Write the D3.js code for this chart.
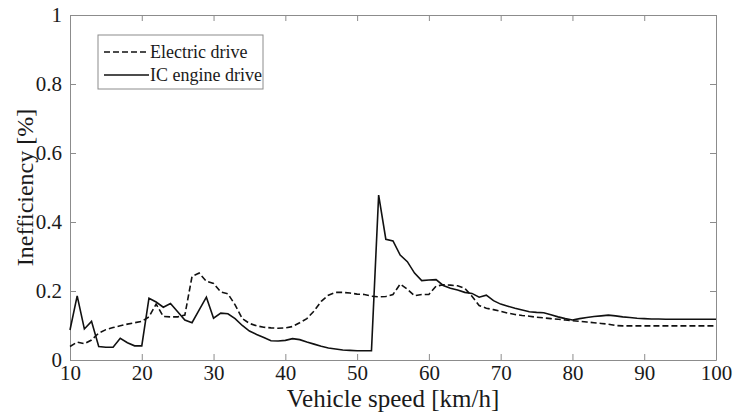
<!DOCTYPE html>
<html>
<head>
<meta charset="utf-8">
<script src="https://cdn.jsdelivr.net/npm/d3@7"></script>
<style>
  body { margin: 0; background: #fff; }
  svg text { font-family: "Liberation Serif", "DejaVu Serif", serif !important; fill: #1a1a1a; }
  .axis path, .axis line { stroke: #8c8c8c; }
  .line { fill: none; stroke: #111; stroke-width: 1.6; }
  .dash { stroke-dasharray: 6,3; }
</style>
</head>
<body>
<div id="chart"></div>
<script>
// values, one per km/h
var speeds = d3.range(10, 101);
var icEngine = [
  0.087, 0.186, 0.090, 0.112, 0.039, 0.037, 0.037, 0.063, 0.050, 0.041,
  0.041, 0.179, 0.168, 0.153, 0.164, 0.140, 0.116, 0.108, 0.145, 0.182,
  0.121, 0.136, 0.134, 0.120, 0.100, 0.084, 0.074, 0.065, 0.056, 0.055,
  0.057, 0.062, 0.059, 0.052, 0.046, 0.040, 0.035, 0.032, 0.029, 0.028,
  0.027, 0.027, 0.027, 0.478, 0.350, 0.345, 0.304, 0.285, 0.252, 0.230,
  0.232, 0.233, 0.216, 0.208, 0.203, 0.196, 0.193, 0.182, 0.188, 0.172,
  0.162, 0.156, 0.150, 0.145, 0.140, 0.138, 0.137, 0.131, 0.125, 0.120,
  0.116, 0.120, 0.123, 0.126, 0.128, 0.130, 0.128, 0.125, 0.123, 0.121,
  0.120, 0.119, 0.119, 0.118, 0.118, 0.118, 0.118, 0.118, 0.118, 0.118,
  0.118
];
var electric = [
  0.039, 0.052, 0.047, 0.058, 0.078, 0.088, 0.094, 0.099, 0.104, 0.108,
  0.112, 0.125, 0.162, 0.126, 0.125, 0.125, 0.130, 0.242, 0.252, 0.228,
  0.222, 0.197, 0.192, 0.160, 0.120, 0.106, 0.099, 0.095, 0.093, 0.092,
  0.093, 0.097, 0.108, 0.120, 0.142, 0.170, 0.188, 0.196, 0.196, 0.194,
  0.191, 0.190, 0.185, 0.183, 0.184, 0.190, 0.220, 0.205, 0.186, 0.190,
  0.190, 0.214, 0.218, 0.217, 0.215, 0.208, 0.185, 0.158, 0.150, 0.146,
  0.141, 0.136, 0.132, 0.129, 0.127, 0.124, 0.122, 0.120, 0.118, 0.116,
  0.114, 0.112, 0.110, 0.108, 0.106, 0.104, 0.100, 0.099, 0.099, 0.099,
  0.099, 0.099, 0.099, 0.099, 0.099, 0.099, 0.099, 0.099, 0.099, 0.099,
  0.099
];
var xTicks = [10, 20, 30, 40, 50, 60, 70, 80, 90, 100];
var yTicks = [0, 0.2, 0.4, 0.6, 0.8, 1];
var yTickLabels = ["0", "0.2", "0.4", "0.6", "0.8", "1"];
var seriesNames = ["Electric drive", "IC engine drive"];

var serif = "'Liberation Serif', 'DejaVu Serif', serif";

var margin = {top: 15, right: 17, bottom: 52, left: 70},
    width = 733 - margin.left - margin.right,
    height = 412 - margin.top - margin.bottom;

var svg = d3.select("#chart")
  .append("svg")
    .attr("width", 733)
    .attr("height", 412)
    .style("font-family", serif)
  .append("g")
    .attr("transform", "translate(" + margin.left + "," + margin.top + ")");

var x = d3.scaleLinear().domain([10, 100]).range([0, width]);
var y = d3.scaleLinear().domain([0, 1]).range([height, 0]);

// bottom + left axes with inward ticks
svg.append("g")
  .attr("class", "axis")
  .attr("transform", "translate(0," + height + ")")
  .call(d3.axisBottom(x).tickValues(xTicks).tickSizeInner(-6).tickSizeOuter(0).tickPadding(5))
  .attr("font-family", serif)
  .call(function(g) { g.selectAll("text").attr("font-size", 21); });

svg.append("g")
  .attr("class", "axis")
  .call(d3.axisLeft(y).tickValues(yTicks).tickSizeInner(-6).tickSizeOuter(0).tickPadding(8)
    .tickFormat(function(d, i) { return yTickLabels[i]; }))
  .attr("font-family", serif)
  .call(function(g) { g.selectAll("text").attr("font-size", 21); });

// top + right box
svg.append("g")
  .attr("class", "axis")
  .call(d3.axisTop(x).tickValues(xTicks).tickSizeInner(-6).tickSizeOuter(0).tickFormat(""));
svg.append("g")
  .attr("class", "axis")
  .attr("transform", "translate(" + width + ",0)")
  .call(d3.axisRight(y).tickValues(yTicks).tickSizeInner(-6).tickSizeOuter(0).tickFormat(""));

// axis titles
svg.append("text")
  .attr("x", width / 2)
  .attr("y", height + 47)
  .attr("text-anchor", "middle")
  .attr("font-family", serif)
  .attr("font-size", 25)
  .text("Vehicle speed [km/h]");

svg.append("text")
  .attr("transform", "rotate(-90)")
  .attr("x", -height / 2)
  .attr("y", -37)
  .attr("text-anchor", "middle")
  .attr("font-family", serif)
  .attr("font-size", 24)
  .text("Inefficiency [%]");

var line = d3.line()
  .x(function(d) { return x(d[0]); })
  .y(function(d) { return y(d[1]); });

svg.append("path")
  .datum(d3.zip(speeds, electric))
  .attr("class", "line dash")
  .attr("d", line);

svg.append("path")
  .datum(d3.zip(speeds, icEngine))
  .attr("class", "line")
  .attr("d", line);

// legend
var legend = svg.append("g").attr("transform", "translate(28,20)");
legend.append("rect")
  .attr("width", 165)
  .attr("height", 54)
  .attr("fill", "#fff")
  .attr("stroke", "#8c8c8c");

seriesNames.forEach(function(name, i) {
  var ly = 17 + i * 23;
  legend.append("line")
    .attr("class", i === 0 ? "line dash" : "line")
    .attr("x1", 6).attr("x2", 51)
    .attr("y1", ly).attr("y2", ly);
  legend.append("text")
    .attr("x", 52)
    .attr("y", ly + 6)
    .attr("font-family", serif)
    .attr("font-size", 18)
    .text(name);
});
</script>
</body>
</html>
